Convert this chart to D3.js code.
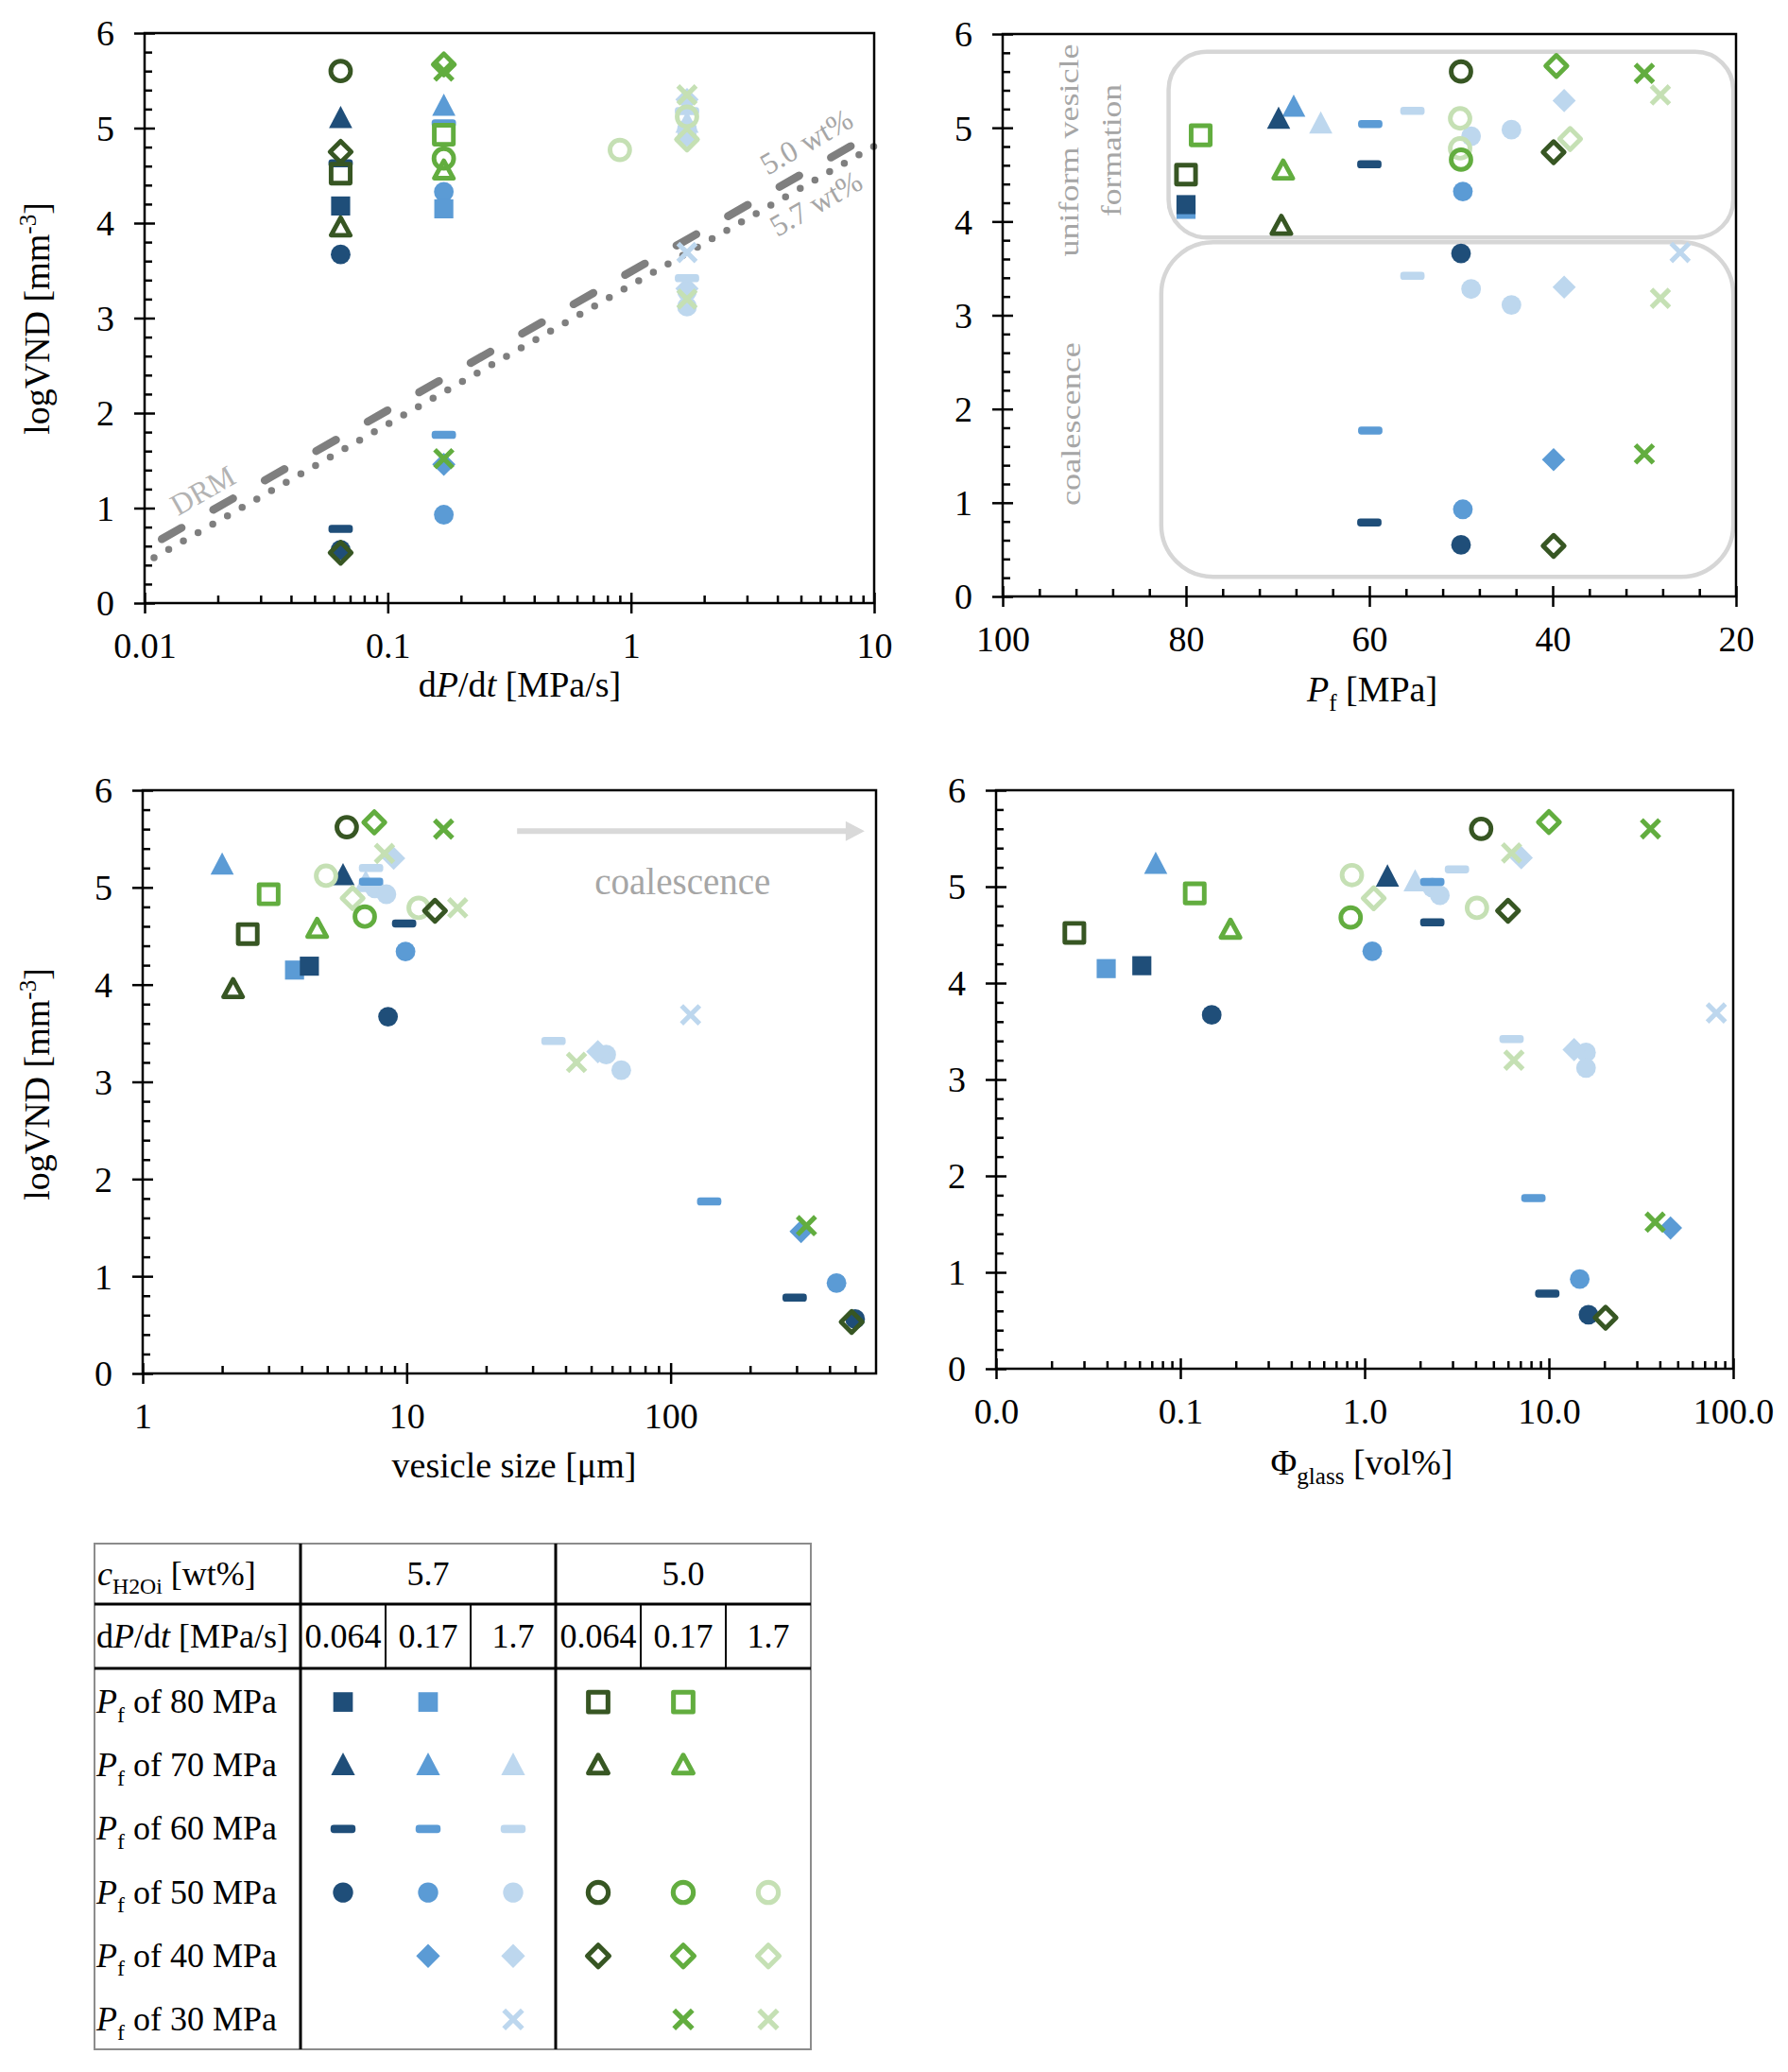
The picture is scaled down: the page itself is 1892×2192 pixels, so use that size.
<!DOCTYPE html>
<html>
<head>
<meta charset="utf-8">
<script src="https://cdn.jsdelivr.net/npm/d3@7"></script>
<style>
  body { margin: 0; background: #fff; }
  svg { display: block; }
  text { font-family: "Liberation Serif", "Times New Roman", serif; }
</style>
</head>
<body>
<svg id="fig" width="1892" height="2192"></svg>
<script>
// ---- data ----
const seriesKeys = ['b064', 'b017', 'b17', 'g064', 'g017', 'g17']
const waterContents = ['5.7', '5.0']
const rateLabels = ['0.064', '0.17', '1.7']
const pfLevels = [80, 70, 60, 50, 40, 30]

// [series, Pf, dP/dt, logVND]
const rateData = [
  ['b064', 70, 0.064, 5.1], ['b064', 60, 0.064, 4.63], ['b064', 80, 0.064, 4.18],
  ['b064', 50, 0.064, 3.67], ['b064', 60, 0.064, 0.78], ['b064', 50, 0.064, 0.56],
  ['b017', 70, 0.17, 5.23], ['b017', 60, 0.17, 5.05], ['b017', 50, 0.17, 4.33],
  ['b017', 80, 0.17, 4.15], ['b017', 60, 0.17, 1.77], ['b017', 40, 0.17, 1.46],
  ['b017', 50, 0.17, 0.93],
  ['b17', 60, 1.7, 5.18], ['b17', 40, 1.7, 5.3], ['b17', 70, 1.7, 5.05],
  ['b17', 50, 1.7, 4.99], ['b17', 50, 1.7, 4.91], ['b17', 30, 1.7, 3.69],
  ['b17', 60, 1.7, 3.42], ['b17', 40, 1.7, 3.31], ['b17', 50, 1.7, 3.28],
  ['b17', 50, 1.7, 3.12],
  ['g064', 50, 0.064, 5.6], ['g064', 40, 0.064, 4.75], ['g064', 80, 0.064, 4.52],
  ['g064', 70, 0.064, 3.95], ['g064', 40, 0.064, 0.53],
  ['g017', 40, 0.17, 5.67], ['g017', 30, 0.17, 5.6], ['g017', 80, 0.17, 4.93],
  ['g017', 50, 0.17, 4.68], ['g017', 70, 0.17, 4.55], ['g017', 30, 0.17, 1.52],
  ['g17', 30, 1.7, 5.35], ['g17', 50, 1.7, 5.12], ['g17', 40, 1.7, 4.88],
  ['g17', 30, 1.7, 3.2], ['g17', 50, 0.9, 4.77]
]

// [series, Pf, Pf as plotted (offset), logVND]
const pfData = [
  ['b064', 80, 80, 4.18], ['b064', 70, 69.9, 5.09], ['b064', 60, 60, 4.61],
  ['b064', 60, 60, 0.79], ['b064', 50, 50, 3.66], ['b064', 50, 50, 0.55],
  ['b017', 80, 80, 4.13], ['b017', 70, 68.25, 5.22], ['b017', 60, 59.9, 5.04],
  ['b017', 60, 59.9, 1.77], ['b017', 50, 49.8, 4.32], ['b017', 50, 49.8, 0.93],
  ['b017', 40, 39.9, 1.46],
  ['b17', 70, 65.3, 5.04], ['b17', 60, 55.3, 5.18], ['b17', 60, 55.3, 3.42],
  ['b17', 50, 48.9, 4.91], ['b17', 50, 44.5, 4.98], ['b17', 50, 48.9, 3.28],
  ['b17', 50, 44.5, 3.11], ['b17', 40, 38.75, 5.29], ['b17', 40, 38.75, 3.3],
  ['b17', 30, 26.1, 3.67],
  ['g064', 80, 80, 4.5], ['g064', 70, 69.6, 3.95], ['g064', 50, 50, 5.6],
  ['g064', 40, 39.9, 4.74], ['g064', 40, 39.9, 0.54],
  ['g017', 80, 78.4, 4.92], ['g017', 70, 69.4, 4.54], ['g017', 50, 50, 4.66],
  ['g017', 40, 39.6, 5.66], ['g017', 30, 30, 5.58], ['g017', 30, 30, 1.52],
  ['g17', 50, 50.1, 5.1], ['g17', 50, 50.1, 4.78], ['g17', 40, 38.1, 4.88],
  ['g17', 30, 28.25, 5.35], ['g17', 30, 28.25, 3.18]
]

// [series, Pf, vesicle size (um), logVND]
const sizeData = [
  ['b064', 80, 4.28, 4.19], ['b064', 70, 5.74, 5.12], ['b064', 60, 9.78, 4.63],
  ['b064', 60, 295, 0.78], ['b064', 50, 8.5, 3.67], ['b064', 50, 500, 0.56],
  ['b017', 80, 3.76, 4.15], ['b017', 70, 2.0, 5.23], ['b017', 60, 7.33, 5.06],
  ['b017', 60, 140, 1.77], ['b017', 50, 9.9, 4.34], ['b017', 50, 425, 0.93],
  ['b017', 40, 312, 1.46],
  ['b17', 70, 7.0, 5.05], ['b17', 60, 7.33, 5.2], ['b17', 60, 36, 3.42],
  ['b17', 50, 7.58, 4.99], ['b17', 50, 8.38, 4.93], ['b17', 50, 57, 3.28],
  ['b17', 50, 65, 3.12], ['b17', 40, 8.93, 5.3], ['b17', 40, 53, 3.31],
  ['b17', 30, 119, 3.69],
  ['g064', 80, 2.5, 4.52], ['g064', 70, 2.2, 3.95], ['g064', 50, 5.93, 5.62],
  ['g064', 40, 12.8, 4.76], ['g064', 40, 485, 0.53],
  ['g017', 80, 3.0, 4.93], ['g017', 70, 4.58, 4.57], ['g017', 50, 6.94, 4.7],
  ['g017', 40, 7.54, 5.67], ['g017', 30, 13.8, 5.6], ['g017', 30, 327, 1.52],
  ['g17', 50, 4.95, 5.12], ['g17', 50, 11.1, 4.79], ['g17', 40, 6.24, 4.89],
  ['g17', 30, 8.24, 5.35], ['g17', 30, 15.6, 4.79], ['g17', 30, 44, 3.2]
]

// [series, Pf, glass fraction (vol%), logVND]
const glassData = [
  ['b064', 80, 0.0618, 4.18], ['b064', 70, 1.33, 5.1], ['b064', 60, 2.33, 4.63],
  ['b064', 60, 9.8, 0.78], ['b064', 50, 0.148, 3.67], ['b064', 50, 16.4, 0.56],
  ['b017', 80, 0.0396, 4.15], ['b017', 70, 0.0735, 5.23], ['b017', 60, 2.33, 5.05],
  ['b017', 60, 8.24, 1.77], ['b017', 50, 1.1, 4.33], ['b017', 50, 14.7, 0.93],
  ['b017', 40, 45.7, 1.46],
  ['b17', 70, 1.88, 5.05], ['b17', 60, 3.17, 5.18], ['b17', 60, 6.27, 3.42],
  ['b17', 50, 2.33, 4.99], ['b17', 50, 2.56, 4.91], ['b17', 50, 15.9, 3.28],
  ['b17', 50, 15.9, 3.12], ['b17', 40, 7.08, 5.3], ['b17', 40, 13.7, 3.31],
  ['b17', 30, 81, 3.69],
  ['g064', 80, 0.0266, 4.52], ['g064', 50, 4.29, 5.6], ['g064', 40, 6.0, 4.75],
  ['g064', 40, 20.3, 0.53],
  ['g017', 80, 0.1197, 4.93], ['g017', 70, 0.187, 4.55], ['g017', 50, 0.84, 4.68],
  ['g017', 40, 10.0, 5.67], ['g017', 30, 35.6, 5.6], ['g017', 30, 37.7, 1.52],
  ['g17', 50, 0.853, 5.12], ['g17', 50, 4.07, 4.78], ['g17', 40, 1.12, 4.88],
  ['g17', 30, 6.27, 5.35], ['g17', 30, 6.46, 3.2]
]

// DRM lines: [dP/dt, logVND] end points
const drm50 = [[0.01, 0.57], [10, 4.95]]
const drm57 = [[0.01, 0.42], [10, 4.81]]

// ---- styles ----
const COLOR = {
  b064: '#1f4e79', b017: '#5b9bd5', b17: '#bdd7ee',
  g064: '#375623', g017: '#62ad3f', g17: '#c5e0b4'
}
const SHAPE = { 80: 'square', 70: 'triangle', 60: 'dash', 50: 'circle', 40: 'diamond', 30: 'cross' }
const drawOrder = ['b17', 'b017', 'b064', 'g17', 'g017', 'g064']
const FS = 38
const SERIF = '"Liberation Serif", "Times New Roman", serif'

const svg = d3.select('#fig')
svg.append('rect').attr('width', 1892).attr('height', 2192).attr('fill', '#fff')

function richText(sel, parts, fs) {
  let shift = 0
  parts.forEach(([s, kind]) => {
    const ts = sel.append('tspan').text(s)
    if (kind === 'i') ts.attr('font-style', 'italic')
    const target = kind === 'sub' ? 0.27 * fs : kind === 'sup' ? -0.38 * fs : 0
    if (target !== shift) {
      ts.attr('dy', target - shift)
      shift = target
    }
    if (kind === 'sub' || kind === 'sup') ts.attr('font-size', 0.66 * fs)
  })
}

function drawMarker(g, key, pf) {
  const c = COLOR[key]
  const open = key[0] === 'g'
  const sw = 4.4
  const shape = SHAPE[pf]
  let el
  if (shape === 'square') {
    el = g.append('rect').attr('x', -9).attr('y', -9).attr('width', 18).attr('height', 18)
  } else if (shape === 'triangle') {
    el = g.append('path').attr('d', open ? 'M0,-9.5L9,7L-9,7Z' : 'M0,-12L11,9L-11,9Z')
  } else if (shape === 'dash') {
    el = g.append('rect').attr('x', -11.5).attr('y', -3.8).attr('width', 23).attr('height', 7.6).attr('rx', 3)
  } else if (shape === 'circle') {
    el = g.append('circle').attr('r', 9.3)
  } else if (shape === 'diamond') {
    el = g.append('path').attr('d', open ? 'M0,-10L10,0L0,10L-10,0Z' : 'M0,-11L11,0L0,11L-11,0Z')
  } else {
    g.append('path').attr('d', 'M-8.5,-8.5L8.5,8.5M-8.5,8.5L8.5,-8.5')
      .attr('stroke', c).attr('stroke-width', 4.6).attr('fill', 'none')
    return
  }
  if (open) el.attr('fill', 'none').attr('stroke', c).attr('stroke-width', sw).attr('stroke-linejoin', 'round')
  else el.attr('fill', c)
}

function logMinor(decades, max) {
  const out = []
  decades.forEach((d) => {
    for (let m = 2; m <= 9; m++) if (d * m < max * 0.999) out.push(d * m)
  })
  return out
}

// ---- extras drawn inside particular panels ----
function drawDrm(g, x, y) {
  const line = d3.line().x((d) => x(d[0])).y((d) => y(d[1]))
  g.append('path').datum(drm57).attr('d', line)
    .attr('fill', 'none').attr('stroke', '#7f7f7f').attr('stroke-width', 7.5)
    .attr('stroke-linecap', 'round').attr('stroke-dasharray', '0 17.9').attr('stroke-dashoffset', -11.5)
  g.append('path').datum(drm50).attr('d', line)
    .attr('fill', 'none').attr('stroke', '#7f7f7f').attr('stroke-width', 8.5)
    .attr('stroke-linecap', 'round').attr('stroke-dasharray', '24 38.7').attr('stroke-dashoffset', -21)
  const ang = Math.atan2(y(drm50[1][1]) - y(drm50[0][1]), x(drm50[1][0]) - x(drm50[0][0])) * 180 / Math.PI
  const labels = [
    { text: 'DRM', at: [0.0173, 1.19], fill: '#b3b3b3' },
    { text: '5.0 wt%', at: [5.25, 4.86], fill: '#a6a6a6' },
    { text: '5.7 wt%', at: [5.75, 4.21], fill: '#a6a6a6' }
  ]
  g.selectAll('text.drm').data(labels).join('text').attr('class', 'drm')
    .attr('transform', (d) => `translate(${x(d.at[0])},${y(d.at[1])}) rotate(${ang})`)
    .attr('text-anchor', 'middle').attr('dy', '0.35em')
    .attr('font-size', 32).attr('fill', (d) => d.fill).text((d) => d.text)
}

function drawRegimes(g, x, y) {
  const boxes = [
    { pf0: 81.9, pf1: 20.3, v0: 3.83, v1: 5.81, r: 40 },
    { pf0: 82.7, pf1: 20.3, v0: 0.21, v1: 3.78, r: 55 }
  ]
  g.selectAll('rect.regime').data(boxes).join('rect').attr('class', 'regime')
    .attr('x', (d) => x(d.pf0)).attr('y', (d) => y(d.v1))
    .attr('width', (d) => x(d.pf1) - x(d.pf0)).attr('height', (d) => y(d.v0) - y(d.v1))
    .attr('rx', (d) => d.r).attr('fill', 'none').attr('stroke', '#d6d6d6').attr('stroke-width', 4.5)
  const labels = [
    { text: 'uniform vesicle', pf: 92.7, v: 4.76, len: 225 },
    { text: 'formation', pf: 88.0, v: 4.76, len: 140 },
    { text: 'coalescence', pf: 92.5, v: 1.84, len: 173 }
  ]
  g.selectAll('text.regime').data(labels).join('text').attr('class', 'regime')
    .attr('transform', (d) => `translate(${x(d.pf)},${y(d.v)}) rotate(-90)`)
    .attr('text-anchor', 'middle').attr('dy', '0.3em')
    .attr('font-size', 29.5).attr('fill', '#a6a6a6')
    .attr('textLength', (d) => d.len).attr('lengthAdjust', 'spacingAndGlyphs')
    .text((d) => d.text)
}

function drawCoalescenceArrow(g, x, y) {
  const x0 = x(26.2), x1 = x(543), yy = y(5.58)
  g.append('line').attr('x1', x0).attr('x2', x1 - 16).attr('y1', yy).attr('y2', yy)
    .attr('stroke', '#d9d9d9').attr('stroke-width', 6)
  g.append('path').attr('d', `M${x1},${yy}L${x1 - 20},${yy - 10.5}L${x1 - 20},${yy + 10.5}Z`).attr('fill', '#d9d9d9')
  g.append('text').attr('x', x(111)).attr('y', y(5.04)).attr('dy', '0.3em')
    .attr('text-anchor', 'middle').attr('font-size', 39).attr('fill', '#a6a6a6').text('coalescence')
}

// ---- panels ----
const yMajor = d3.range(0, 7)
const yMinor = d3.range(0, 31).filter((i) => i % 5).map((i) => i / 5)
const logVndTitle = [['logVND [mm', ''], ['-3', 'sup'], [']', '']]

const panels = [
  {
    box: [153, 35, 925, 638], x: d3.scaleLog().domain([0.01, 10]),
    major: [0.01, 0.1, 1, 10], minor: logMinor([0.01, 0.1, 1], 10), fmt: (d) => String(d),
    data: rateData, xTitle: [['d', ''], ['P', 'i'], ['/d', ''], ['t', 'i'], [' [MPa/s]', '']],
    xTitleAt: [550, 737], yTitleAt: [52, 337], extra: drawDrm
  },
  {
    box: [1061, 36, 1837, 631], x: d3.scaleLinear().domain([100, 20]),
    major: [100, 80, 60, 40, 20], minor: d3.range(20, 101, 4).filter((v) => v % 20), fmt: d3.format('d'),
    data: pfData, xTitle: [['P', 'i'], ['f', 'sub'], [' [MPa]', '']],
    xTitleAt: [1452, 742], extra: drawRegimes
  },
  {
    box: [151, 836, 927, 1453], x: d3.scaleLog().domain([1, 600]),
    major: [1, 10, 100], minor: logMinor([1, 10, 100], 600), fmt: (d) => String(d),
    data: sizeData, xTitle: [['vesicle size [μm]', '']],
    xTitleAt: [544, 1563], yTitleAt: [52, 1147], extra: drawCoalescenceArrow
  },
  {
    box: [1054, 836, 1834, 1448], x: d3.scaleLog().domain([0.01, 100]),
    major: [0.01, 0.1, 1, 10, 100], minor: logMinor([0.01, 0.1, 1, 10], 100), fmt: d3.format('.1f'),
    data: glassData, xTitle: [['Φ', ''], ['glass', 'sub'], [' [vol%]', '']],
    xTitleAt: [1441, 1560]
  }
]

panels.forEach((p) => {
  const [l, t, r, b] = p.box
  const W = r - l, H = b - t
  const g = svg.append('g').attr('transform', `translate(${l},${t})`)
  const x = p.x.range([0, W])
  const y = d3.scaleLinear().domain([0, 6]).range([H, 0])

  const axisStyle = (s) => s.attr('font-size', FS).attr('font-family', SERIF).attr('stroke-width', 2.5)
    .call((a) => a.select('.domain').remove())

  // x: minor inside, major crossing
  g.append('g').attr('transform', `translate(0,${H})`)
    .call(d3.axisBottom(x).tickValues(p.minor).tickSize(-8).tickFormat(''))
    .call(axisStyle)
  g.append('g').attr('transform', `translate(0,${H})`)
    .call(d3.axisBottom(x).tickValues(p.major).tickSize(-11).tickFormat(''))
    .call(axisStyle)
  g.append('g').attr('transform', `translate(0,${H})`)
    .call(d3.axisBottom(x).tickValues(p.major).tickSize(11).tickFormat(p.fmt))
    .call(axisStyle)
    .call((a) => a.selectAll('text').attr('y', 58).attr('dy', null).attr('fill', '#000')
      .style('font-family', SERIF))

  // y
  g.append('g').call(d3.axisLeft(y).tickValues(yMinor).tickSize(-8).tickFormat('')).call(axisStyle)
  g.append('g').call(d3.axisLeft(y).tickValues(yMajor).tickSize(-11).tickFormat('')).call(axisStyle)
  g.append('g').call(d3.axisLeft(y).tickValues(yMajor).tickSize(11).tickFormat(d3.format('d')))
    .call(axisStyle)
    .call((a) => a.selectAll('text').attr('x', -32).attr('dy', '0.34em').attr('fill', '#000')
      .style('font-family', SERIF))

  if (p.extra) p.extra(g, x, y)

  const pts = p.data.slice().sort((a, c) => drawOrder.indexOf(a[0]) - drawOrder.indexOf(c[0]))
  g.selectAll('g.pt').data(pts).join('g').attr('class', 'pt')
    .attr('transform', (d) => `translate(${x(d[2])},${y(d[3])}) scale(1.12)`)
    .each(function (d) { drawMarker(d3.select(this), d[0], d[1]) })

  g.append('rect').attr('width', W).attr('height', H)
    .attr('fill', 'none').attr('stroke', '#000').attr('stroke-width', 2.5)

  richText(svg.append('text').attr('x', p.xTitleAt[0]).attr('y', p.xTitleAt[1])
    .attr('text-anchor', 'middle').attr('font-size', FS), p.xTitle, FS)
  if (p.yTitleAt) {
    richText(svg.append('text')
      .attr('transform', `translate(${p.yTitleAt[0]},${p.yTitleAt[1]}) rotate(-90)`)
      .attr('text-anchor', 'middle').attr('font-size', FS), logVndTitle, FS)
  }
})

// ---- legend table ----
const TF = 36
const tbl = { left: 100, right: 858, top: 1633, h1: 1697, h2: 1765, bottom: 2168, split: 318 }
const col = d3.scaleBand().domain(seriesKeys).range([tbl.split, tbl.right])
const row = d3.scaleBand().domain(pfLevels).range([tbl.h2 + 2, tbl.bottom + 2])
const tg = svg.append('g')

tg.append('rect').attr('x', tbl.left).attr('y', tbl.top)
  .attr('width', tbl.right - tbl.left).attr('height', tbl.bottom - tbl.top)
  .attr('fill', 'none').attr('stroke', '#8c8c8c').attr('stroke-width', 2)
tg.selectAll('line.hthick').data([tbl.h1, tbl.h2]).join('line').attr('class', 'hthick')
  .attr('x1', tbl.left).attr('x2', tbl.right).attr('y1', (d) => d).attr('y2', (d) => d)
  .attr('stroke', '#000').attr('stroke-width', 3)
tg.selectAll('line.vthick').data([seriesKeys[0], seriesKeys[3]]).join('line').attr('class', 'vthick')
  .attr('x1', (d) => col(d)).attr('x2', (d) => col(d)).attr('y1', tbl.top).attr('y2', tbl.bottom)
  .attr('stroke', '#000').attr('stroke-width', 3)
tg.selectAll('line.vthin').data(['b017', 'b17', 'g017', 'g17']).join('line').attr('class', 'vthin')
  .attr('x1', (d) => col(d)).attr('x2', (d) => col(d)).attr('y1', tbl.h1).attr('y2', tbl.h2)
  .attr('stroke', '#000').attr('stroke-width', 2)

const headY1 = (tbl.top + tbl.h1) / 2 + 0.32 * TF
const headY2 = (tbl.h1 + tbl.h2) / 2 + 0.32 * TF
richText(tg.append('text').attr('x', tbl.left + 3).attr('y', headY1).attr('font-size', TF),
  [['c', 'i'], ['H2Oi', 'sub'], [' [wt%]', '']], TF)
tg.selectAll('text.wc').data(waterContents).join('text').attr('class', 'wc')
  .attr('x', (d, i) => col(seriesKeys[i * 3 + 1]) + col.bandwidth() / 2).attr('y', headY1)
  .attr('text-anchor', 'middle').attr('font-size', TF).text((d) => d)
richText(tg.append('text').attr('x', tbl.left + 2).attr('y', headY2).attr('font-size', TF),
  [['d', ''], ['P', 'i'], ['/d', ''], ['t', 'i'], [' [MPa/s]', '']], TF)
tg.selectAll('text.rate').data(seriesKeys).join('text').attr('class', 'rate')
  .attr('x', (d) => col(d) + col.bandwidth() / 2).attr('y', headY2)
  .attr('text-anchor', 'middle').attr('font-size', TF).text((d, i) => rateLabels[i % 3])

pfLevels.forEach((pf) => {
  const cy = row(pf) + row.bandwidth() / 2
  richText(tg.append('text').attr('x', tbl.left + 2).attr('y', cy + 0.32 * TF).attr('font-size', TF),
    [['P', 'i'], ['f', 'sub'], [` of ${pf} MPa`, '']], TF)
})

// one legend marker for every series / Pf pair that occurs in the data
const combos = d3.groups(rateData, (d) => d[0], (d) => d[1])
  .flatMap(([k, byPf]) => byPf.map(([pf]) => [k, pf]))
tg.selectAll('g.leg').data(combos).join('g').attr('class', 'leg')
  .attr('transform', (d) => `translate(${col(d[0]) + col.bandwidth() / 2},${row(d[1]) + row.bandwidth() / 2}) scale(1.15)`)
  .each(function (d) { drawMarker(d3.select(this), d[0], d[1]) })
</script>
</body>
</html>
